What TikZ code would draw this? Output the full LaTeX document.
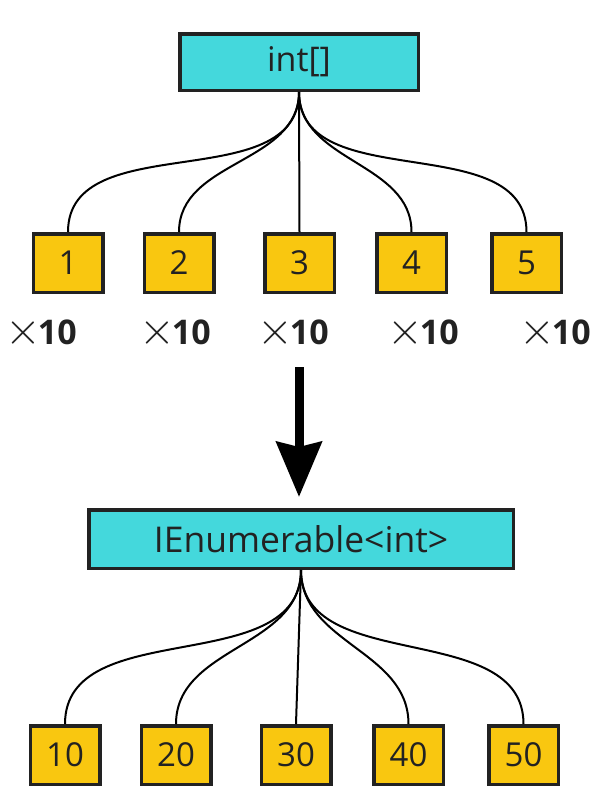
\documentclass[tikz,border=0pt]{standalone}
\usepackage{fontspec}
\usepackage{graphicx}
\setmainfont{Open Sans}
\usetikzlibrary{arrows.meta}

\definecolor{typecyan}{HTML}{44D8DC}
\definecolor{itemyellow}{HTML}{F9C710}
\definecolor{inkdark}{HTML}{222222}

\tikzset{
  typebox/.style={draw=inkdark, line width=3.5pt, fill=typecyan, text=inkdark,
    inner sep=0pt, font=\fontsize{34}{40}\selectfont},
  itembox/.style={draw=inkdark, line width=3.5pt, fill=itemyellow, text=inkdark,
    inner sep=0pt, minimum width=69.5pt, minimum height=58.5pt,
    font=\fontsize{33}{38}\selectfont},
  timeslabel/.style={inner sep=0pt, text=inkdark, font=\fontsize{34}{40}\selectfont\bfseries},
  fan/.style={line width=2pt, black},
  bigarrow/.style={line width=9pt, -{Stealth[length=55pt,width=45pt,inset=5pt]}},
}
\newcommand{\thinx}{{\fontsize{10}{10}\selectfont\scalebox{4.6}{$\times$}}\hspace{-3pt}}

\begin{document}
\begin{tikzpicture}[x=1pt,y=-1pt]
  \useasboundingbox (0,0) rectangle (615,812);

  % the array
  \node[typebox, minimum width=238.5pt, minimum height=56.5pt] (arr) at (299,62) {int[]};
  \node[itembox] (x1) at (68,263) {1};
  \node[itembox] (x2) at (179,263) {2};
  \node[itembox] (x3) at (299.5,263) {3};
  \node[itembox] (x4) at (411.5,263) {4};
  \node[itembox] (x5) at (526.5,263) {5};

  \draw[fan] (arr.south) to[out=-90,in=90] (x1.north);
  \draw[fan] (arr.south) to[out=-90,in=90] (x2.north);
  \draw[fan] (arr.south) -- (x3.north);
  \draw[fan] (arr.south) to[out=-90,in=90] (x4.north);
  \draw[fan] (arr.south) to[out=-90,in=90] (x5.north);

  \node[timeslabel] (m1) at (41,333) {\thinx10};
  \node[timeslabel] (m2) at (175,333) {\thinx10};
  \node[timeslabel] (m3) at (293,333) {\thinx10};
  \node[timeslabel] (m4) at (423,333) {\thinx10};
  \node[timeslabel] (m5) at (555,333) {\thinx10};

  % map step
  \coordinate (arrtop) at (299,367);
  \coordinate (arrtip) at (299,497);
  \draw[bigarrow] (arrtop) -- (arrtip);

  % the sequence
  \node[typebox, minimum width=424.5pt, minimum height=58.5pt,
    font=\fontsize{35.5}{40}\selectfont] (enum) at (301,539) {IEnumerable<int>};
  \node[itembox] (y1) at (65,755) {10};
  \node[itembox] (y2) at (176,755) {20};
  \node[itembox] (y3) at (296,755) {30};
  \node[itembox] (y4) at (408.5,755) {40};
  \node[itembox] (y5) at (523.5,755) {50};

  \draw[fan] (enum.south) to[out=-90,in=90] (y1.north);
  \draw[fan] (enum.south) to[out=-90,in=90] (y2.north);
  \draw[fan] (enum.south) -- (y3.north);
  \draw[fan] (enum.south) to[out=-90,in=90] (y4.north);
  \draw[fan] (enum.south) to[out=-90,in=90] (y5.north);
\end{tikzpicture}
\end{document}
